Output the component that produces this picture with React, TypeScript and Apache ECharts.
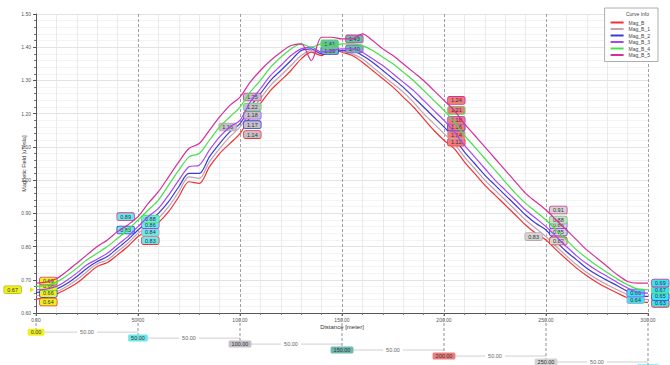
import React, { useEffect, useRef } from "react";
import * as echarts from "echarts";

const distance = [0,5,10,15,20,25,30,35,40,45,50,55,60,65,70,75,80,85,90,95,100,105,110,115,120,125,130,135,140,145,150,155,160,165,170,175,180,185,190,195,200,205,210,215,220,225,230,235,240,245,250,255,260,265,270,275,280,285,290,295,300];

const magB = [0.642,0.648,0.657,0.672,0.69,0.715,0.74,0.752,0.775,0.8,0.83,0.85,0.872,0.905,0.95,0.995,0.99,1.04,1.08,1.11,1.14,1.19,1.23,1.27,1.3,1.33,1.365,1.385,1.375,1.395,1.385,1.375,1.355,1.33,1.305,1.28,1.25,1.22,1.185,1.15,1.12,1.095,1.055,1.02,0.985,0.955,0.925,0.895,0.865,0.84,0.82,0.79,0.762,0.735,0.712,0.692,0.675,0.66,0.645,0.632,0.632];
const magB1 = [0.652,0.655,0.664,0.68,0.7,0.725,0.748,0.76,0.785,0.81,0.84,0.86,0.885,0.92,0.965,1.01,1.005,1.055,1.095,1.13,1.16,1.205,1.245,1.285,1.315,1.345,1.375,1.39,1.38,1.39,1.39,1.38,1.365,1.34,1.315,1.29,1.265,1.235,1.2,1.17,1.14,1.11,1.07,1.035,1.0,0.97,0.94,0.91,0.88,0.855,0.83,0.8,0.772,0.745,0.722,0.702,0.685,0.67,0.655,0.642,0.64];
const magB2 = [0.662,0.664,0.672,0.688,0.71,0.735,0.755,0.77,0.795,0.82,0.85,0.875,0.9,0.935,0.98,1.02,1.02,1.07,1.11,1.145,1.17,1.22,1.26,1.3,1.33,1.36,1.39,1.395,1.38,1.385,1.39,1.39,1.375,1.355,1.33,1.305,1.28,1.25,1.22,1.19,1.16,1.125,1.085,1.05,1.015,0.985,0.955,0.925,0.895,0.87,0.85,0.815,0.785,0.76,0.735,0.715,0.698,0.682,0.665,0.652,0.65];
const magB3 = [0.67,0.672,0.68,0.698,0.72,0.745,0.762,0.78,0.805,0.83,0.86,0.89,0.915,0.955,1.0,1.04,1.045,1.09,1.13,1.16,1.18,1.235,1.275,1.315,1.345,1.375,1.395,1.4,1.385,1.39,1.395,1.395,1.385,1.365,1.345,1.32,1.295,1.27,1.24,1.21,1.18,1.145,1.105,1.07,1.035,1.0,0.97,0.94,0.91,0.885,0.86,0.83,0.8,0.772,0.748,0.728,0.71,0.692,0.675,0.662,0.66];
const magB4 = [0.68,0.683,0.693,0.712,0.735,0.76,0.78,0.8,0.825,0.85,0.88,0.91,0.94,0.985,1.03,1.07,1.08,1.12,1.16,1.19,1.22,1.265,1.3,1.34,1.37,1.395,1.41,1.4,1.41,1.405,1.41,1.41,1.405,1.39,1.37,1.35,1.325,1.3,1.27,1.24,1.21,1.175,1.135,1.1,1.065,1.03,0.995,0.96,0.93,0.905,0.88,0.85,0.82,0.79,0.765,0.742,0.722,0.702,0.685,0.672,0.67];
const magB5 = [0.69,0.693,0.703,0.725,0.75,0.775,0.8,0.82,0.845,0.865,0.89,0.93,0.965,1.01,1.055,1.095,1.11,1.15,1.19,1.225,1.25,1.295,1.33,1.36,1.385,1.405,1.41,1.36,1.43,1.43,1.425,1.425,1.44,1.42,1.395,1.375,1.35,1.325,1.3,1.27,1.24,1.21,1.17,1.135,1.1,1.065,1.03,0.995,0.96,0.935,0.91,0.88,0.85,0.82,0.79,0.765,0.74,0.715,0.695,0.69,0.69];

const seriesNames = ["Mag_B", "Mag_B_1", "Mag_B_2", "Mag_B_3", "Mag_B_4", "Mag_B_5"];
const seriesValues = [magB, magB1, magB2, magB3, magB4, magB5];
const seriesColors = ["#ee3333", "#c4a2b0", "#3a3ad8", "#a448f0", "#48e048", "#d4309a"];

const cursors = [0, 50, 100, 150, 200, 250, 300];
const cursorColors = ["#f0f020", "#6ee6ea", "#c4c0c8", "#6fb8b0", "#ee7c7c", "#d4d4d4", "#40e0f0"];
const yCursorValue = 0.67;

// label side per series per cursor: r = right, l = left, - = hidden
const labelSides = [
  ["r", "r", "r", "-", "r", "r", "r"],
  ["-", "r", "l", "-", "r", "l", "l"],
  ["r", "l", "r", "l", "r", "r", "r"],
  ["-", "r", "r", "r", "r", "r", "l"],
  ["r", "r", "r", "l", "r", "r", "r"],
  ["r", "l", "r", "r", "r", "r", "r"],
];
// small vertical nudges (px) for crowded labels, per series per cursor
const labelNudge = [
  [3, 4, 1, 0, 2, 1, 1],
  [0, -1, 0, 0, 1, 0, 0],
  [1, 0, 1, 0, 0, 2, 0],
  [0, -2, -5, 0, 0, -2, 0],
  [0, -1, 0, 0, 0, 0, 0],
  [-2, 0, 0, 0, 0, 0, 0],
];

const FONT = "Liberation Sans";

export default function App() {
  const ref = useRef<HTMLDivElement>(null);
  useEffect(() => {
    document.body.style.margin = "0";
    if (!ref.current) return;
    const chart = echarts.init(ref.current, null, { renderer: "svg" });

    const lineSeries: any[] = seriesNames.map((name, si) => {
      const vals = seriesValues[si];
      const mpData: any[] = [];
      cursors.forEach((c, k) => {
        const side = labelSides[si][k];
        if (side === "-") return;
        const v = vals[distance.indexOf(c)];
        mpData.push({
          coord: [c, v],
          value: v,
          label: {
            position: side === "r" ? "right" : "left",
            offset: [0, labelNudge[si][k]],
            backgroundColor: cursorColors[k],
            borderColor: seriesColors[si],
          },
        });
      });
      if (si === 0) {
        mpData.push({
          coord: [0, yCursorValue],
          value: yCursorValue,
          symbol: "triangle",
          symbolRotate: -90,
          symbolSize: [5, 4],
          symbolOffset: [-4, 0],
          itemStyle: { color: "#e8e800" },
          label: {
            position: "left",
            distance: 9,
            backgroundColor: "#f0f020",
            borderColor: "#b8b800",
          },
        });
      }
      return {
        name,
        type: "line",
        xAxisIndex: 0,
        yAxisIndex: 0,
        data: distance.map((d, i) => [d, vals[i]]),
        showSymbol: false,
        symbol: "none",
        smooth: 0.3,
        lineStyle: { color: seriesColors[si], width: 1.2 },
        itemStyle: { color: seriesColors[si] },
        z: 2 + si,
        markPoint: {
          symbol: "circle",
          symbolSize: 0,
          silent: true,
          data: mpData,
          label: {
            show: true,
            formatter: (p: any) => Number(p.value).toFixed(2),
            fontSize: 5.5,
            fontFamily: FONT,
            color: "#333",
            padding: [1, 3, 0, 3],
            borderWidth: 0.8,
            borderRadius: 1.5,
            distance: 4,
          },
        },
      };
    });

    const chainSeries = {
      type: "custom",
      xAxisIndex: 1,
      yAxisIndex: 1,
      silent: true,
      clip: false,
      data: cursors.map((c, i) => [c, i]),
      renderItem: (params: any, api: any) => {
        const i = params.dataIndex;
        const x = api.value(0);
        const lvl = api.value(1);
        const p = api.coord([x, lvl]);
        const cs = params.coordSys;
        const children: any[] = [];
        children.push({
          type: "line",
          shape: { x1: p[0], y1: cs.y, x2: p[0], y2: p[1] },
          style: { stroke: "#777", lineWidth: 0.8, lineDash: [3, 2] },
        });
        if (i < cursors.length - 1) {
          const q = api.coord([cursors[i + 1], lvl]);
          children.push({
            type: "line",
            shape: { x1: p[0], y1: p[1], x2: q[0], y2: q[1] },
            style: { stroke: "#cfcfcf", lineWidth: 1 },
          });
          children.push({
            type: "text",
            style: {
              text: (cursors[i + 1] - cursors[i]).toFixed(2),
              x: (p[0] + q[0]) / 2,
              y: p[1],
              align: "center",
              verticalAlign: "middle",
              fontSize: 5.5,
              fontFamily: FONT,
              fill: "#666",
              backgroundColor: "#fff",
              padding: [0, 3],
            },
          });
        }
        children.push({
          type: "text",
          style: {
            text: x.toFixed(2),
            x: p[0],
            y: p[1],
            align: "center",
            verticalAlign: "middle",
            fontSize: 5.5,
            fontFamily: FONT,
            fill: "#333",
            backgroundColor: cursorColors[i],
            padding: [1, 3, 0, 3],
            borderRadius: 1.5,
          },
        });
        return { type: "group", children };
      },
    };

    chart.setOption({
      animation: false,
      backgroundColor: "#ffffff",
      textStyle: { fontFamily: FONT },
      grid: [
        { left: 36, right: 22, top: 14, bottom: 52, show: false },
        { left: 36, right: 22, top: 313, bottom: 0, show: false },
      ],
      legend: {
        data: seriesNames,
        orient: "vertical",
        right: 12,
        top: 8,
        padding: [12, 8, 4, 6],
        itemGap: 1.5,
        itemWidth: 13,
        itemHeight: 2,
        icon: "rect",
        backgroundColor: "#fff",
        borderColor: "#999",
        borderWidth: 0.8,
        textStyle: { fontSize: 5, color: "#444", fontFamily: FONT },
        z: 20,
      },
      graphic: [
        {
          type: "text",
          right: 21,
          top: 11,
          z: 30,
          style: { text: "Curve Info", fontSize: 5, fill: "#444", fontFamily: FONT },
        },
      ],
      xAxis: [
        {
          type: "value",
          gridIndex: 0,
          min: 0,
          max: 300,
          interval: 50,
          name: "Distance [meter]",
          nameLocation: "middle",
          nameGap: 11,
          nameMoveOverlap: false,
          nameTextStyle: { fontSize: 6, color: "#333" },
          axisLine: { show: true, lineStyle: { color: "#555", width: 1 } },
          axisTick: { show: true, length: 3, lineStyle: { color: "#555" } },
          minorTick: { show: true, splitNumber: 5, length: 2, lineStyle: { color: "#777" } },
          axisLabel: { fontSize: 5, color: "#555", margin: 4, formatter: (v: number) => v.toFixed(2) },
          splitLine: { show: true, lineStyle: { color: "#888", type: [3, 2], width: 0.8 } },
          minorSplitLine: { show: true, lineStyle: { color: "#e6e6e6", width: 0.8 } },
        },
        {
          type: "value",
          gridIndex: 1,
          min: 0,
          max: 300,
          show: false,
          splitLine: { show: false },
        },
      ],
      yAxis: [
        {
          type: "value",
          gridIndex: 0,
          min: 0.6,
          max: 1.5,
          interval: 0.1,
          name: "Magnetic Field [uTesla]",
          nameLocation: "middle",
          nameGap: 9,
          nameMoveOverlap: false,
          nameTextStyle: { fontSize: 5.5, color: "#333" },
          axisLine: { show: true, lineStyle: { color: "#555", width: 1 } },
          axisTick: { show: true, length: 3, lineStyle: { color: "#555" } },
          minorTick: { show: true, splitNumber: 5, length: 2, lineStyle: { color: "#777" } },
          axisLabel: { fontSize: 5, color: "#555", margin: 5, formatter: (v: number) => v.toFixed(2) },
          splitLine: { show: true, lineStyle: { color: "#dcdcdc", width: 0.8 } },
          minorSplitLine: { show: true, lineStyle: { color: "#f1f1f1", width: 0.8 } },
        },
        {
          type: "value",
          gridIndex: 1,
          min: -3.2,
          max: 5.5,
          inverse: true,
          show: false,
          splitLine: { show: false },
        },
      ],
      series: [...lineSeries, chainSeries],
    });

    return () => chart.dispose();
  }, []);

  return <div ref={ref} style={{ width: 670, height: 365 }} />;
}
